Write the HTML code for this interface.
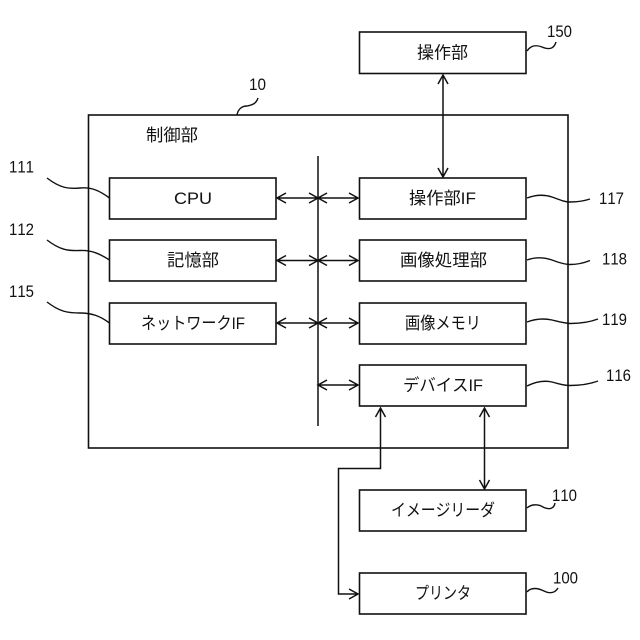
<!DOCTYPE html>
<html>
<head>
<meta charset="utf-8">
<style>
html,body{margin:0;padding:0;background:#fff;}
svg{display:block;}
text{font-family:"Liberation Sans","Noto Sans CJK JP",sans-serif;fill:#111;font-kerning:none;}
.l{font-size:17px;}
.n{font-size:17px;}
.b{fill:#fff;stroke:#111;stroke-width:1.6;}
.c{fill:none;stroke:#111;stroke-width:1.4;}
.a{fill:none;stroke:#111;stroke-width:1.5;}
</style>
</head>
<body>
<svg width="640" height="640" viewBox="0 0 640 640" xmlns="http://www.w3.org/2000/svg">
<rect class="b" x="88.5" y="115" width="479.5" height="333"/>
<rect class="b" x="359.5" y="32" width="166.5" height="41.5"/>
<rect class="b" x="109.5" y="178" width="166.5" height="41"/>
<rect class="b" x="109.5" y="240" width="166.5" height="41"/>
<rect class="b" x="109.5" y="303" width="166.5" height="41"/>
<rect class="b" x="359.5" y="178" width="166.5" height="41"/>
<rect class="b" x="359.5" y="240" width="166.5" height="41"/>
<rect class="b" x="359.5" y="303" width="166.5" height="41"/>
<rect class="b" x="359.5" y="365" width="166.5" height="41"/>
<rect class="b" x="359.5" y="490" width="166.5" height="41"/>
<rect class="b" x="359.5" y="573" width="166.5" height="41"/>

<path class="a" d="M318 156V426"/>
<path class="a" d="M277 198H358M286 193L277 198L286 203M309 193L318 198L309 203M327 193L318 198L327 203M349 193L358 198L349 203"/>
<path class="a" d="M277 260.500H358M286 255.500L277 260.500L286 265.500M309 255.500L318 260.500L309 265.500M327 255.500L318 260.500L327 265.500M349 255.500L358 260.500L349 265.500"/>
<path class="a" d="M277 323H358M286 318L277 323L286 328M309 318L318 323L309 328M327 318L318 323L327 328M349 318L358 323L349 328"/>
<path class="a" d="M318 385H358M327 380L318 385L327 390M349 380L358 385L349 390"/>
<path class="a" d="M443 75V177M438 84L443 75L448 84M438 168L443 177L448 168"/>
<path class="a" d="M380.500 408V468.500H338.500V594H358M375.500 417L380.500 408L385.500 417M349 589L358 594L349 599"/>
<path class="a" d="M484.500 408V489M479.500 417L484.500 408L489.500 417M479.500 480L484.500 489L489.500 480"/>

<path class="c" d="M47 178C60 188 68 189 80 188C92 187 100 191 109.500 198"/>
<path class="c" d="M47 240C60 250 68 251 80 250.500C92 250 100 254 109.500 260"/>
<path class="c" d="M47 302C60 312 68 313 80 313C92 313 100 316 109.500 323"/>
<path class="c" d="M527 198C535 195 543 194 552 197C560 200 565 202 570 202C578 202 584 201 590 199"/>
<path class="c" d="M527 260C535 257 543 257 552 260C560 263 565 264.500 570 264.500C578 264.500 584 263 590 260.500"/>
<path class="c" d="M527 322C535 319 543 318 552 320C560 322 563 323 570 323.500C582 323.500 590 322 598 319"/>
<path class="c" d="M527 386C535 382 543 380 552 382C560 384 563 385.500 570 385.500C582 385.500 590 384 598 381"/>
<path class="c" d="M527 51C531 45 537 45 542 47C549 50 554 49 556 42"/>
<path class="c" d="M527 508C531 504 538 504 543 507C549 510 554 509 555 503"/>
<path class="c" d="M527 592C531 587 538 588 544 591C550 594 555 593 558 588"/>
<path class="c" d="M237 115C238 109 242 106 247 106C252 105 256 104 258 98"/>

<text class="l" x="417" y="58.500" textLength="51" lengthAdjust="spacingAndGlyphs">操作部</text>
<text class="l" x="146" y="141" textLength="52" lengthAdjust="spacingAndGlyphs">制御部</text>
<text class="l" x="174" y="204" textLength="38" lengthAdjust="spacingAndGlyphs">CPU</text>
<text class="l" x="167" y="266" textLength="52" lengthAdjust="spacingAndGlyphs">記憶部</text>
<text class="l" x="141" y="329" textLength="104" lengthAdjust="spacingAndGlyphs">ネットワークIF</text>
<text class="l" x="409" y="204" textLength="67" lengthAdjust="spacingAndGlyphs">操作部IF</text>
<text class="l" x="400" y="266" textLength="87" lengthAdjust="spacingAndGlyphs">画像処理部</text>
<text class="l" x="405" y="329" textLength="76" lengthAdjust="spacingAndGlyphs">画像メモリ</text>
<text class="l" x="403" y="391" textLength="80" lengthAdjust="spacingAndGlyphs">デバイスIF</text>
<text class="l" x="391" y="516" textLength="104" lengthAdjust="spacingAndGlyphs">イメージリーダ</text>
<text class="l" x="415" y="599" textLength="56" lengthAdjust="spacingAndGlyphs">プリンタ</text>

<text class="n" x="249" y="90" textLength="17" lengthAdjust="spacingAndGlyphs">10</text>
<text class="n" x="547" y="37" textLength="25" lengthAdjust="spacingAndGlyphs">150</text>
<text class="n" x="9" y="172.500" textLength="25" lengthAdjust="spacingAndGlyphs">111</text>
<text class="n" x="9" y="235" textLength="25" lengthAdjust="spacingAndGlyphs">112</text>
<text class="n" x="9" y="297" textLength="25" lengthAdjust="spacingAndGlyphs">115</text>
<text class="n" x="599" y="204" textLength="25" lengthAdjust="spacingAndGlyphs">117</text>
<text class="n" x="602" y="264.500" textLength="25" lengthAdjust="spacingAndGlyphs">118</text>
<text class="n" x="602" y="325" textLength="25" lengthAdjust="spacingAndGlyphs">119</text>
<text class="n" x="606" y="381" textLength="25" lengthAdjust="spacingAndGlyphs">116</text>
<text class="n" x="552" y="501" textLength="25" lengthAdjust="spacingAndGlyphs">110</text>
<text class="n" x="553" y="583.500" textLength="25" lengthAdjust="spacingAndGlyphs">100</text>
</svg>
</body>
</html>
